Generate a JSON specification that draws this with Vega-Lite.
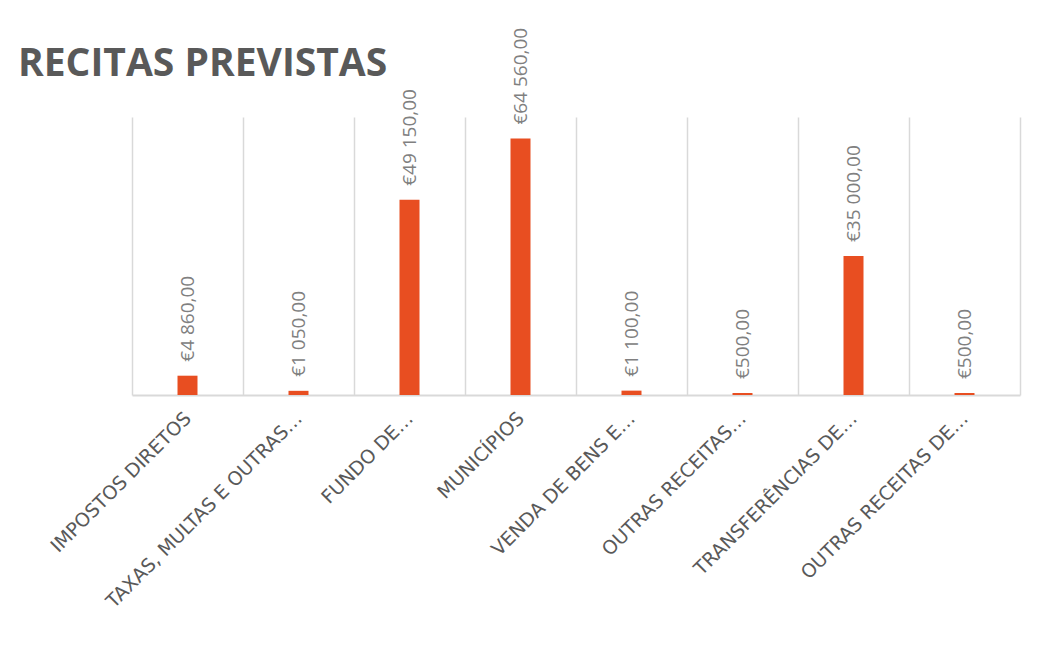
{
  "$schema": "https://vega.github.io/schema/vega-lite/v6.json",
  "autosize": "none",
  "width": 888,
  "height": 278,
  "padding": {"left": 132, "top": 117, "right": 17, "bottom": 256},
  "background": "white",
  "title": {
    "text": "RECITAS PREVISTAS",
    "anchor": "start",
    "frame": "group",
    "orient": "top",
    "font": "Open Sans",
    "fontSize": 39,
    "fontWeight": "bold",
    "color": "#595959",
    "offset": -56,
    "dx": -114
  },
  "config": {
    "view": {"stroke": null},
    "locale": {"number": {"decimal": ",", "thousands": " ", "grouping": [3], "currency": ["€", ""]}}
  },
  "data": {
    "values": [
      {"categoria": "IMPOSTOS DIRETOS", "valor": 4860},
      {"categoria": "TAXAS, MULTAS E OUTRAS…", "valor": 1050},
      {"categoria": "FUNDO DE…", "valor": 49150},
      {"categoria": "MUNICÍPIOS", "valor": 64560},
      {"categoria": "VENDA DE BENS E…", "valor": 1100},
      {"categoria": "OUTRAS RECEITAS…", "valor": 500},
      {"categoria": "TRANSFERÊNCIAS DE…", "valor": 35000},
      {"categoria": "OUTRAS RECEITAS DE…", "valor": 500}
    ]
  },
  "encoding": {
    "x": {
      "field": "categoria",
      "type": "nominal",
      "sort": null,
      "scale": {"paddingInner": 0, "paddingOuter": 0},
      "axis": {
        "title": null,
        "tickBand": "extent",
        "grid": true,
        "gridColor": "#d9d9d9",
        "gridWidth": 1.5,
        "ticks": false,
        "domainColor": "#d9d9d9",
        "domainWidth": 2,
        "labelAngle": -45,
        "labelAlign": "right",
        "labelBaseline": "middle",
        "labelPadding": 20,
        "labelFont": "DejaVu Sans",
        "labelFontSize": 19,
        "labelColor": "#595959",
        "labelLimit": 0,
        "labelOverlap": false
      }
    },
    "y": {
      "field": "valor",
      "type": "quantitative",
      "scale": {"domain": [0, 70000], "nice": false},
      "axis": null
    }
  },
  "layer": [
    {
      "mark": {"type": "bar", "size": 20, "color": "#E84E21"}
    },
    {
      "mark": {
        "type": "text",
        "angle": 270,
        "align": "left",
        "baseline": "middle",
        "dx": 14,
        "font": "Open Sans",
        "fontSize": 19,
        "color": "#808080"
      },
      "encoding": {
        "text": {"field": "valor", "type": "quantitative", "format": "$,.2f"}
      }
    }
  ]
}
